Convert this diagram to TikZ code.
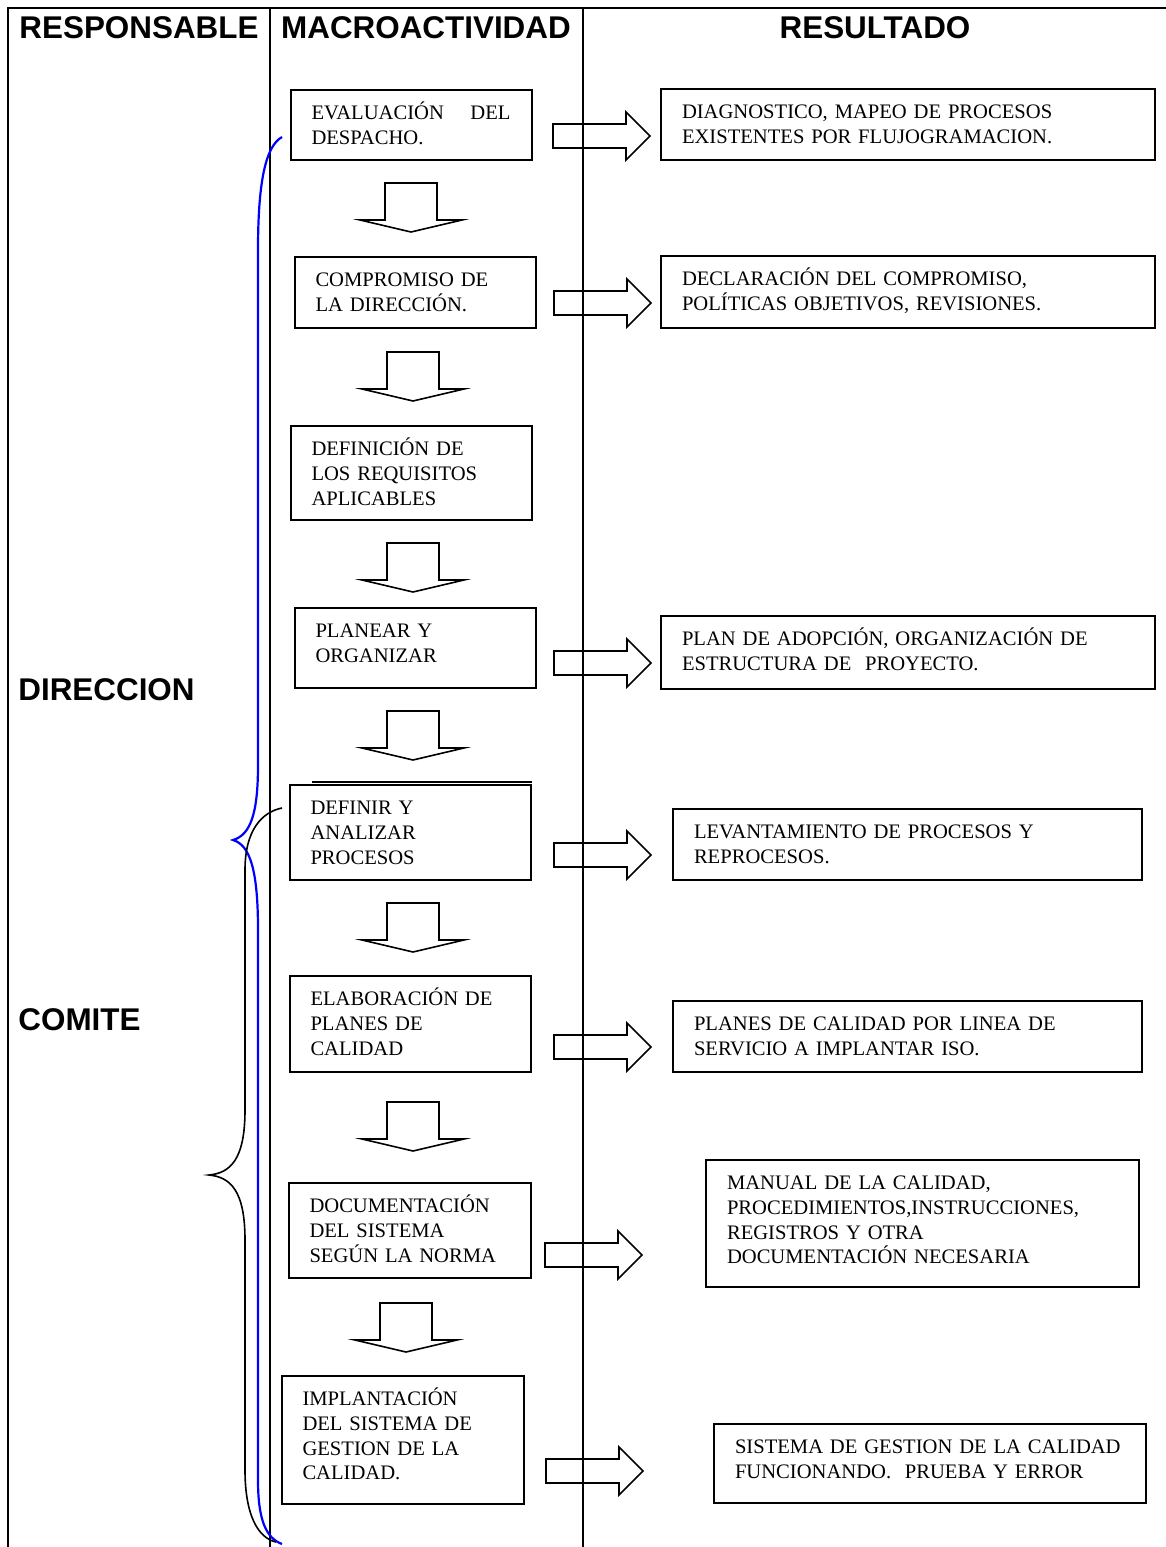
\documentclass[tikz,border=0pt]{standalone}
\usepackage{fontspec}
\setmainfont{Liberation Serif}
\newfontfamily\headfont{Liberation Sans}
\usetikzlibrary{calc}
\definecolor{braceblue}{RGB}{0,0,255}
\newcommand\boxtext{\fontsize{10.3pt}{12.3pt}\selectfont}
\newcommand\headtext{\headfont\bfseries\fontsize{15.7pt}{18pt}\selectfont}
\begin{document}
\begin{tikzpicture}[x=0.5pt,y=-0.5pt,
  frameline/.style={line width=1.1pt},
  actbox/.style={draw, line width=1pt, inner xsep=10.5pt, inner ysep=0pt,
    align=left, font=\boxtext, text height=14.9pt},
  headlabel/.style={font=\headtext, inner sep=0pt},
  flowline/.style={draw, line width=0.8pt, line join=miter},
  downflow/.pic={\draw[flowline] (-26,0) -- (26,0) -- (26,37) -- (51,37) -- (0,49) -- (-51,37) -- (-26,37) -- cycle;},
  rightflow/.pic={\draw[flowline] (0,-12) -- (73,-12) -- (73,-24) -- (97,0) -- (73,24) -- (73,12) -- (0,12) -- cycle;},
  dirbrace/.style={draw=braceblue, line width=1.1pt},
  combrace/.style={draw=black, line width=0.8pt}]
\useasboundingbox (0,0) rectangle (1166,1547);

% table frame and column rules
\draw[frameline] (8,1547) -- (8,8) -- (1166,8);
\draw[frameline] (270,8) -- (270,1547);
\draw[frameline] (583,8) -- (583,1547);

% column headings and responsible parties
\node[headlabel] (hResp) at (139,28) {RESPONSABLE};
\node[headlabel] (hMacro) at (426,28) {MACROACTIVIDAD};
\node[headlabel] (hRes) at (875,28) {RESULTADO};
\node[headlabel, anchor=west] (lDir) at (18,690) {DIRECCION};
\node[headlabel, anchor=west] (lCom) at (18,1020) {COMITE};

% macro-activities
\node[actbox, text width=99.5pt, text depth=20.1pt] (act1) at (411,125) {EVALUACIÓN\hfill DEL\\DESPACHO.};
\node[actbox, text width=99.5pt, text depth=20.6pt] (act2) at (415,292.5) {COMPROMISO DE\\LA DIRECCIÓN.};
\node[actbox, text width=99.5pt, text depth=32.1pt] (act3) at (411,473) {DEFINICIÓN DE\\LOS REQUISITOS\\APLICABLES};
\node[actbox, text width=99.5pt, text depth=25.1pt] (act4) at (415,648) {PLANEAR Y\\ORGANIZAR};
\node[actbox, text width=99.5pt, text depth=32.6pt] (act5) at (410,832.5) {DEFINIR Y\\ANALIZAR\\PROCESOS};
\draw[line width=1pt] ($(act5.north west)+(23,-2)$) -- ($(act5.north east)+(0,-2)$);
\node[actbox, text width=99.5pt, text depth=33.1pt] (act6) at (410,1024) {ELABORACIÓN DE\\PLANES DE\\CALIDAD};
\node[actbox, text width=100pt, text depth=32.6pt] (act7) at (409.5,1230.5) {DOCUMENTACIÓN\\DEL SISTEMA\\SEGÚN LA NORMA};
\node[actbox, text width=100pt, text depth=49.1pt] (act8) at (402.5,1440) {IMPLANTACIÓN\\DEL SISTEMA DE\\GESTION DE LA\\CALIDAD.};

% results
\node[actbox, text width=226pt, text depth=20.6pt] (res1) at (908,124.5) {DIAGNOSTICO, MAPEO DE PROCESOS\\EXISTENTES POR FLUJOGRAMACION.};
\node[actbox, text width=226pt, text depth=21.1pt] (res2) at (908,292) {DECLARACIÓN DEL COMPROMISO,\\POLÍTICAS OBJETIVOS, REVISIONES.};
\node[actbox, text width=226pt, text depth=21.6pt] (res4) at (908,652.5) {PLAN DE ADOPCIÓN, ORGANIZACIÓN DE\\ESTRUCTURA DE\ \ PROYECTO.};
\node[actbox, text width=213.5pt, text depth=20.6pt] (res5) at (907.5,844.5) {LEVANTAMIENTO DE PROCESOS Y\\REPROCESOS.};
\node[actbox, text width=213.5pt, text depth=20.6pt] (res6) at (907.5,1036.5) {PLANES DE CALIDAD POR LINEA DE\\SERVICIO A IMPLANTAR ISO.};
\node[actbox, text width=195.5pt, text depth=48.6pt] (res7) at (922.5,1223.5) {MANUAL DE LA CALIDAD,\\PROCEDIMIENTOS,INSTRUCCIONES,\\REGISTROS Y OTRA\\DOCUMENTACIÓN NECESARIA};
\node[actbox, text width=195pt, text depth=24.6pt] (res8) at (930,1463.5) {SISTEMA DE GESTION DE LA CALIDAD\\FUNCIONANDO.\ \ PRUEBA Y ERROR};

% block arrows between activities
\pic at (411,183) {downflow};
\pic at (413,352) {downflow};
\pic at (413,543) {downflow};
\pic at (413,711) {downflow};
\pic at (413,903) {downflow};
\pic at (413,1102) {downflow};
\pic at (406,1303) {downflow};

% block arrows towards results
\pic at (553,136) {rightflow};
\pic at (554,303) {rightflow};
\pic at (554,663) {rightflow};
\pic at (554,855) {rightflow};
\pic at (554,1047) {rightflow};
\pic at (545,1255) {rightflow};
\pic at (546,1471) {rightflow};

% braces grouping activities by responsible party
\draw[dirbrace] (282,137) .. controls (266,146) and (258,180) .. (258,250)
  -- (258,765) .. controls (258,815) and (250,835) .. (233,840)
  .. controls (250,845) and (258,870) .. (258,930)
  -- (258,1480) .. controls (258,1520) and (266,1538) .. (282,1544);
\draw[combrace] (282,808) .. controls (262,812) and (245,830) .. (245,870)
  -- (245,1110) .. controls (245,1160) and (230,1173) .. (209,1175)
  .. controls (230,1177) and (245,1190) .. (245,1240)
  -- (245,1470) .. controls (245,1515) and (258,1538) .. (276,1542);
\end{tikzpicture}
\end{document}
